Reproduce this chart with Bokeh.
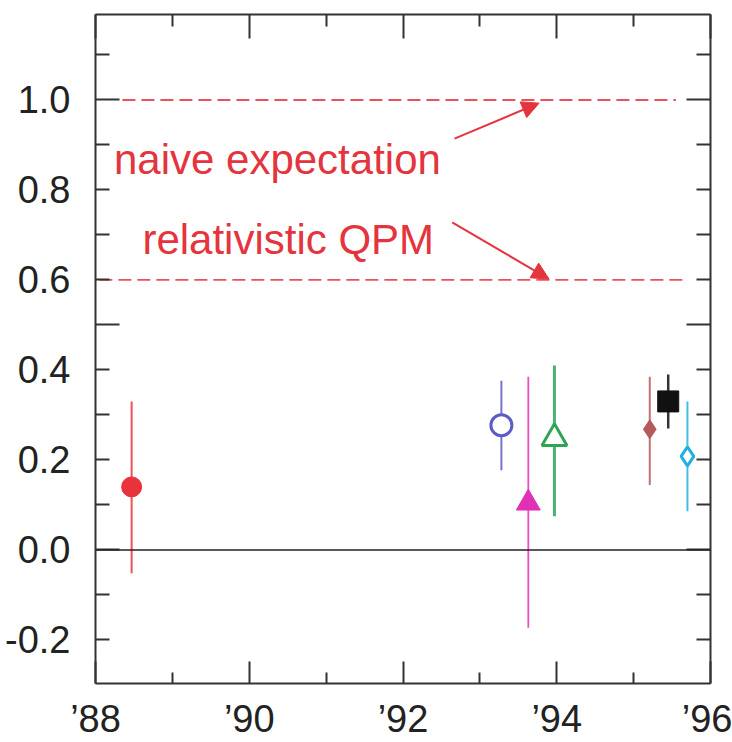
from bokeh.plotting import figure
from bokeh.models import (Range1d, LinearAxis, FixedTicker, Span, Label, Arrow,
                          NormalHead, ColumnDataSource, Segment, CustomLabelingPolicy)
from bokeh.embed import file_html
from bokeh.resources import INLINE

# ---------------- data ----------------
years = [88.47, 93.28, 93.63, 93.97, 95.21, 95.45, 95.70]
values = [0.14, 0.277, 0.104, 0.248, 0.268, 0.330, 0.208]
err_low = [-0.052, 0.177, -0.173, 0.075, 0.144, 0.270, 0.086]
err_high = [0.330, 0.376, 0.385, 0.410, 0.385, 0.390, 0.330]
markers = ["circle", "circle", "triangle", "triangle", "diamond", "square", "diamond"]
colors = ["#e8323c", "#5c5cc8", "#e030b4", "#2ea455", "#b45a5c", "#111111", "#22b0e0"]
filled = [True, False, True, False, True, True, False]
sizes = [20, 21, 24, 25, 19, 21, 19]

ref_values = [1.0, 0.6]
ref_x_start = [88.35, 88.05]
ref_x_end = [95.55, 95.70]
ref_texts = ["naive expectation", "relativistic QPM"]
ref_text_x = [88.24, 88.61]
ref_text_y = [0.867, 0.690]
arrow_x_start = [92.67, 92.64]
arrow_y_start = [0.914, 0.728]
arrow_x_end = [93.77, 93.90]
arrow_y_end = [0.993, 0.602]

x_major = [88, 90, 92, 94, 96]
x_minor = [89, 91, 93, 95]
x_labels = ["\u201988", "\u201990", "\u201992", "\u201994", "\u201996"]
y_label_ticks = [-0.2, 0.0, 0.2, 0.4, 0.6, 0.8, 1.0]
y_labels = ["-0.2", "0.0", "0.2", "0.4", "0.6", "0.8", "1.0"]
y_long_ticks = [0.0, 0.5, 1.0]
y_short_ticks = [-0.3, -0.2, -0.1, 0.1, 0.2, 0.3, 0.4, 0.6, 0.7, 0.8, 0.9, 1.1]

FONT = "Liberation Sans"
AXC = "#333333"
RED = "#e4343e"

p = figure(width=732, height=742, output_backend="svg", toolbar_location=None,
           x_range=Range1d(88, 96), y_range=Range1d(-0.297, 1.19),
           x_axis_location=None, y_axis_location=None,
           min_border_left=95, min_border_right=22, min_border_top=14,
           min_border_bottom=54)
p.grid.visible = False
p.outline_line_color = None
p.background_fill_color = "white"


def tick_axis(major, minor, major_len, minor_len, labels=False):
    ax = LinearAxis(ticker=FixedTicker(ticks=major, minor_ticks=minor))
    ax.major_tick_in = major_len
    ax.major_tick_out = 0
    ax.minor_tick_in = minor_len
    ax.minor_tick_out = 0
    ax.major_tick_line_color = AXC
    ax.minor_tick_line_color = AXC
    ax.major_tick_line_width = 2
    ax.minor_tick_line_width = 2
    ax.axis_line_color = AXC
    ax.axis_line_width = 2
    if not labels:
        ax.major_label_policy = CustomLabelingPolicy(code="return new Set()")
        ax.major_label_text_font_size = "0px"
        ax.major_label_standoff = 0
    return ax


# bottom axis with labels
bottom = tick_axis(x_major, x_minor, 22, 11, labels=True)
bottom.major_label_overrides = {t: s for t, s in zip(x_major, x_labels)}
bottom.major_label_text_font = FONT
bottom.major_label_text_font_size = "38px"
bottom.major_label_text_color = "#222222"
bottom.major_label_standoff = 14
p.add_layout(bottom, "below")

# top axis, ticks only
p.add_layout(tick_axis(x_major, x_minor, 24, 12), "above")

# left axis: ticks (inner), labels (outer)
p.add_layout(tick_axis(y_long_ticks, y_short_ticks, 24, 14), "left")

left_labels = LinearAxis(ticker=FixedTicker(ticks=y_label_ticks, minor_ticks=[]))
left_labels.major_tick_in = 0
left_labels.major_tick_out = 0
left_labels.minor_tick_in = 0
left_labels.minor_tick_out = 0
left_labels.axis_line_color = None
left_labels.major_tick_line_color = None
left_labels.major_label_overrides = {t: s for t, s in zip(y_label_ticks, y_labels)}
left_labels.major_label_text_font = FONT
left_labels.major_label_text_font_size = "38px"
left_labels.major_label_text_color = "#222222"
left_labels.major_label_standoff = 25
p.add_layout(left_labels, "left")

# right axis, ticks only
p.add_layout(tick_axis(y_long_ticks, y_short_ticks, 24, 14), "right")

# zero line
p.add_layout(Span(location=0, dimension="width", line_color="#222222", line_width=1.5))

# reference dashed lines
ref_src = ColumnDataSource(dict(x0=ref_x_start, x1=ref_x_end, y=ref_values))
p.add_glyph(ref_src, Segment(x0="x0", y0="y", x1="x1", y1="y",
                             line_color=RED, line_width=1.8, line_dash="13 6",
                             line_alpha=0.85))

# texts and arrows
for tx, ty, s in zip(ref_text_x, ref_text_y, ref_texts):
    p.add_layout(Label(x=tx, y=ty, text=s, text_font=FONT, text_font_size="42px",
                       text_color=RED, text_baseline="alphabetic", text_align="left"))
for xs, ys, xe, ye in zip(arrow_x_start, arrow_y_start, arrow_x_end, arrow_y_end):
    p.add_layout(Arrow(x_start=xs, y_start=ys, x_end=xe, y_end=ye,
                       line_color=RED, line_width=2,
                       end=NormalHead(size=17, fill_color=RED, line_color=RED)))

# error bars
eb_src = ColumnDataSource(dict(x=years, lo=err_low, hi=err_high, c=colors,
                               w=[2, 2, 1.8, 3, 2, 2.5, 2]))
p.segment(x0="x", y0="lo", x1="x", y1="hi", source=eb_src, line_color="c",
          line_width="w", line_alpha=0.85)

# markers
for x, y, m, c, f, s in zip(years, values, markers, colors, filled, sizes):
    if f:
        p.scatter([x], [y], marker=m, size=s, fill_color=c, line_color=c, line_width=1)
    else:
        p.scatter([x], [y], marker=m, size=s, fill_color="white", line_color=c, line_width=3)

open("out.html", "w").write(file_html(p, INLINE))
